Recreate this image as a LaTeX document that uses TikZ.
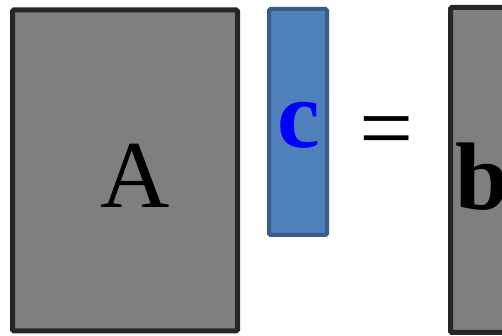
\documentclass[tikz,border=0pt]{standalone}
\usepackage{fontspec}
\setmainfont{Liberation Serif}
\definecolor{boxgray}{HTML}{7F7F7F}
\definecolor{boxedge}{HTML}{262626}
\definecolor{vecfill}{HTML}{4F81BD}
\definecolor{vecedge}{HTML}{385D8A}
\begin{document}
\begin{tikzpicture}[x=1pt,y=1pt,
  mat/.style={fill=boxgray,draw=boxedge,line width=5pt,rounded corners=1.5pt},
  vec/.style={fill=vecfill,draw=vecedge,line width=4pt,rounded corners=1.5pt},
  sym/.style={inner sep=0pt,font=\fontsize{96}{96}\selectfont}]
\useasboundingbox (0,0) rectangle (502,336);
\clip (0,0) rectangle (502,336);
\draw[mat] (12.5,5) rectangle (237.5,326);
\draw[vec] (269,101) rectangle (327,327);
\draw[mat] (450.5,3.5) rectangle (700,328.5);
\node[sym,anchor=base] (A) at (135,128) {A};
\node[sym,anchor=base,text=blue] (c) at (298.5,188) {\bfseries c};
\node[sym,anchor=base] (eq) at (387,175) {=};
\node[sym,anchor=base west] (b) at (455,126) {\bfseries b};
\end{tikzpicture}
\end{document}
